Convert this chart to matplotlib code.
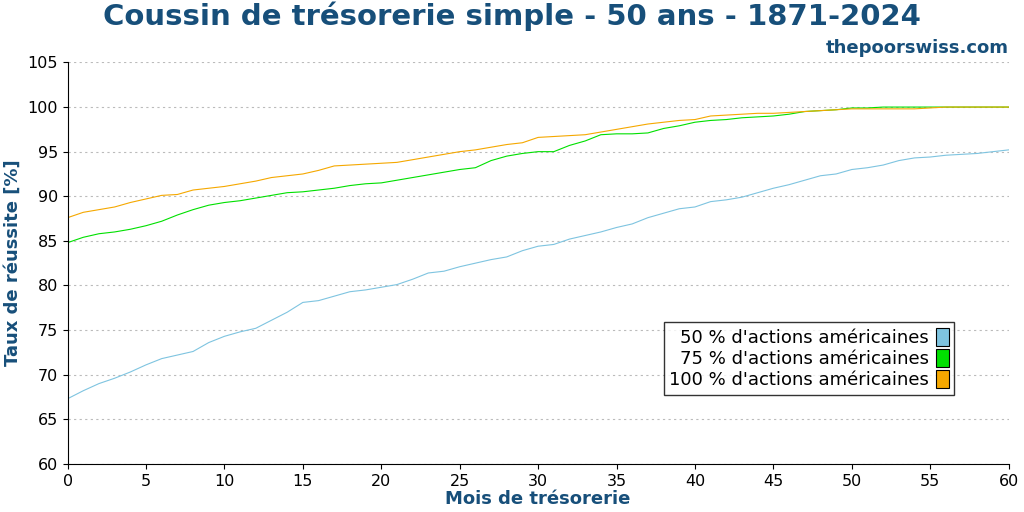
import matplotlib.pyplot as plt
from matplotlib.patches import Patch

# mois de trésorerie
mois = list(range(61))

# taux de réussite [%]
actions_50 = [67.3, 68.2, 69.0, 69.6, 70.3, 71.1, 71.8, 72.2, 72.6, 73.6, 74.3, 74.8, 75.2, 76.1, 77.0,
              78.1, 78.3, 78.8, 79.3, 79.5, 79.8, 80.1, 80.7, 81.4, 81.6, 82.1, 82.5, 82.9, 83.2, 83.9,
              84.4, 84.6, 85.2, 85.6, 86.0, 86.5, 86.9, 87.6, 88.1, 88.6, 88.8, 89.4, 89.6, 89.9, 90.4,
              90.9, 91.3, 91.8, 92.3, 92.5, 93.0, 93.2, 93.5, 94.0, 94.3, 94.4, 94.6, 94.7, 94.8, 95.0, 95.2]
actions_75 = [84.8, 85.4, 85.8, 86.0, 86.3, 86.7, 87.2, 87.9, 88.5, 89.0, 89.3, 89.5, 89.8, 90.1, 90.4,
              90.5, 90.7, 90.9, 91.2, 91.4, 91.5, 91.8, 92.1, 92.4, 92.7, 93.0, 93.2, 94.0, 94.5, 94.8,
              95.0, 95.0, 95.7, 96.2, 96.9, 97.0, 97.0, 97.1, 97.6, 97.9, 98.3, 98.5, 98.6, 98.8, 98.9,
              99.0, 99.2, 99.5, 99.6, 99.7, 99.9, 99.9, 100.0, 100.0, 100.0, 100.0, 100.0, 100.0, 100.0, 100.0, 100.0]
actions_100 = [87.6, 88.2, 88.5, 88.8, 89.3, 89.7, 90.1, 90.2, 90.7, 90.9, 91.1, 91.4, 91.7, 92.1, 92.3,
               92.5, 92.9, 93.4, 93.5, 93.6, 93.7, 93.8, 94.1, 94.4, 94.7, 95.0, 95.2, 95.5, 95.8, 96.0,
               96.6, 96.7, 96.8, 96.9, 97.2, 97.5, 97.8, 98.1, 98.3, 98.5, 98.6, 99.0, 99.1, 99.2, 99.3,
               99.3, 99.4, 99.5, 99.6, 99.7, 99.8, 99.8, 99.8, 99.8, 99.8, 99.9, 100.0, 100.0, 100.0, 100.0, 100.0]

labels = ["50 % d'actions américaines", "75 % d'actions américaines", "100 % d'actions américaines"]
couleurs = ["#7ec4e0", "#00e000", "#f5a800"]
bleu = "#174f7a"

fig, ax = plt.subplots(figsize=(10.24, 5.12), dpi=100)
fig.subplots_adjust(left=0.066, right=0.985, top=0.878, bottom=0.094)

for serie, lab, c in zip([actions_50, actions_75, actions_100], labels, couleurs):
    ax.plot(mois, serie, color=c, lw=0.8, label=lab)

ax.set_xlim(0, 60)
ax.set_ylim(60, 105)
ax.set_xticks(range(0, 61, 5))
ax.set_yticks(range(60, 106, 5))
ax.tick_params(labelsize=11.5)
ax.grid(axis="y", color="#bbbbbb", linestyle=(0, (2, 3)), lw=0.8)
for s in ["top", "right"]:
    ax.spines[s].set_visible(False)

ax.set_xlabel("Mois de trésorerie", fontsize=13, fontweight="bold", color=bleu, labelpad=1)
ax.set_ylabel("Taux de réussite [%]", fontsize=13, fontweight="bold", color=bleu)
fig.suptitle("Coussin de trésorerie simple - 50 ans - 1871-2024", fontsize=21,
             fontweight="bold", color=bleu, y=0.998)
fig.text(0.985, 0.897, "thepoorswiss.com", ha="right", fontsize=13, fontweight="bold", color=bleu)

handles = [Patch(facecolor=c, edgecolor="black", lw=0.8) for c in couleurs]
leg = ax.legend(handles, labels, loc="lower right", bbox_to_anchor=(0.952, 0.15), markerfirst=False,
                fontsize=13, fancybox=False, edgecolor="black", handlelength=0.7, handleheight=1.2,
                borderpad=0.3, labelspacing=0.1, handletextpad=0.4)
for t in leg.get_texts():
    t.set_ha("right")

fig.savefig("out.png")
